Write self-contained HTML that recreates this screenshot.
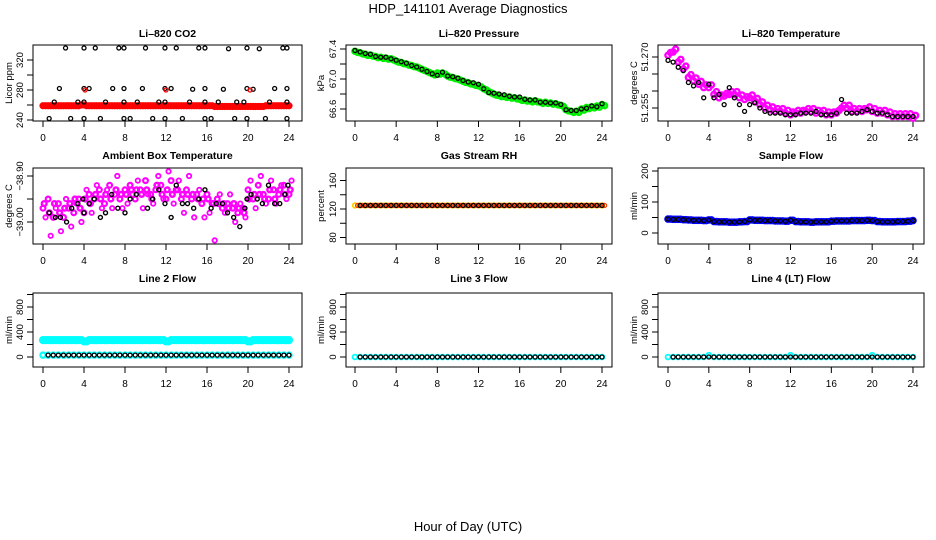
<!DOCTYPE html>
<html><head><meta charset="utf-8"><style>
html,body{margin:0;padding:0;background:#fff;}
svg{display:block;font-family:"Liberation Sans",Arial,sans-serif;}
</style></head><body>
<svg id="chart" width="936" height="540" viewBox="0 0 936 540">
<text x="468" y="13" text-anchor="middle" font-size="13">HDP_141101  Average Diagnostics</text>
<text x="468" y="531" text-anchor="middle" font-size="13">Hour of Day (UTC)</text>
</svg>
<script>
// ---- data ----
const xTicks = [0,4,8,12,16,20,24];
const halfHours = [0,0.5,1,1.5,2,2.5,3,3.5,4,4.5,5,5.5,6,6.5,7,7.5,8,8.5,9,9.5,10,10.5,11,11.5,12,12.5,13,13.5,14,14.5,15,15.5,16,16.5,17,17.5,18,18.5,19,19.5,20,20.5,21,21.5,22,22.5,23,23.5,24];

const co2Red = [259,259,259,259,259,259,259,259,260,259,259,259,259,259,259,259,259,259,259,259,259,259,259,259,259,259,259,259,259,259,259,259,259,259,258,258,258,258,258,258,258,258,258,258,259,259,259,259,259];
const co2BlackHours = [2.2,4,5.1,7.4,7.9,10,11.9,13,15.2,15.8,18.1,19.9,21.1,23.4,23.8, 1.6,4,4.5,6.8,7.9,9.7,11.9,12.5,14.6,15.8,17.6,19.9,20.5,22.6,23.8, 1.1,3.4,4,6.1,7.9,9.2,11.3,11.9,14.3,15.8,17.1,18.9,19.6,22.1,23.8, 0.6,2.7,4,5.6,7.9,8.5,10.7,11.9,13.6,15.8,16.4,18.7,19.9,21.7,23.8];
const co2BlackValues = [336,336,336,336,336,336,336,336,336,336,335,336,335,336,336, 282,282,282,282,282,282,282,282,281,282,281,282,281,282,282, 264,264,264,264,264,264,264,264,264,264,264,264,264,264,264, 242,242,242,242,242,242,242,242,242,242,242,242,242,242,242];
const co2RedHours = [4.1,12,20.2];
const co2RedValues = [280,280,280];

const pressGreen = [67.37,67.35,67.33,67.32,67.30,67.29,67.28,67.27,67.24,67.22,67.20,67.18,67.16,67.13,67.10,67.07,67.08,67.08,67.04,67.02,67.00,66.97,66.95,66.93,66.91,66.87,66.83,66.80,66.78,66.77,66.76,66.75,66.73,66.72,66.71,66.71,66.69,66.69,66.68,66.67,66.65,66.59,66.57,66.57,66.60,66.62,66.63,66.64,66.66];
const pressBlack = [67.38,67.36,67.34,67.33,67.30,67.29,67.29,67.27,67.25,67.23,67.21,67.18,67.16,67.13,67.10,67.07,67.05,67.09,67.04,67.03,67.01,66.98,66.96,66.95,66.93,66.87,66.82,66.81,66.80,66.79,66.77,66.76,66.76,66.73,66.72,66.72,66.69,66.69,66.68,66.68,66.66,66.59,66.58,66.58,66.60,66.61,66.64,66.63,66.67];

const tempMagenta = [51.2705,51.2715,51.2685,51.2665,51.2640,51.2630,51.2620,51.2610,51.2610,51.2590,51.2580,51.2585,51.2590,51.2590,51.2580,51.2575,51.2580,51.2570,51.2560,51.2550,51.2545,51.2540,51.2540,51.2535,51.2530,51.2535,51.2535,51.2540,51.2540,51.2535,51.2535,51.2530,51.2530,51.2535,51.2550,51.2550,51.2540,51.2540,51.2540,51.2545,51.2540,51.2535,51.2535,51.2530,51.2525,51.2525,51.2525,51.2525,51.2520];
const tempBlack = [51.2690,51.2685,51.2670,51.2660,51.2625,51.2615,51.2625,51.2580,51.2620,51.2580,51.2590,51.2560,51.2610,51.2580,51.2560,51.2540,51.2560,51.2565,51.2550,51.2540,51.2535,51.2535,51.2535,51.2530,51.2530,51.2530,51.2535,51.2535,51.2535,51.2540,51.2530,51.2530,51.2530,51.2535,51.2575,51.2535,51.2535,51.2535,51.2540,51.2545,51.2540,51.2535,51.2535,51.2530,51.2525,51.2525,51.2525,51.2525,51.2525];

const ambMagentaA = [-38.97,-38.95,-38.99,-38.96,-38.99,-38.97,-38.98,-38.95,-38.98,-38.94,-38.95,-38.93,-38.96,-38.92,-38.94,-38.95,-38.93,-38.92,-38.95,-38.93,-38.91,-38.94,-38.93,-38.92,-38.95,-38.91,-38.93,-38.95,-38.93,-38.95,-38.94,-38.96,-38.94,-38.96,-38.95,-38.97,-38.96,-38.97,-38.98,-38.97,-38.93,-38.95,-38.92,-38.94,-38.95,-38.93,-38.94,-38.92,-38.94];
const ambMagentaB = [-38.99,-39.03,-38.97,-39.02,-38.95,-39.01,-38.96,-39.00,-38.93,-38.98,-38.92,-38.97,-38.93,-38.97,-38.90,-38.97,-38.96,-38.94,-38.91,-38.97,-38.94,-38.96,-38.90,-38.95,-38.89,-38.96,-38.91,-38.98,-38.90,-38.99,-38.93,-38.99,-38.98,-39.04,-38.94,-38.98,-38.94,-39.00,-38.96,-38.99,-38.91,-38.97,-38.90,-38.96,-38.91,-38.96,-38.92,-38.95,-38.91];
const ambMagentaC = [-38.96,-38.98,-38.96,-38.98,-38.97,-38.96,-38.95,-38.97,-38.95,-38.96,-38.94,-38.95,-38.94,-38.95,-38.93,-38.94,-38.94,-38.93,-38.93,-38.94,-38.93,-38.95,-38.92,-38.94,-38.93,-38.94,-38.93,-38.94,-38.94,-38.94,-38.95,-38.95,-38.95,-38.96,-38.96,-38.96,-38.97,-38.96,-38.97,-38.98,-38.95,-38.94,-38.94,-38.95,-38.93,-38.95,-38.93,-38.94,-38.93];
const ambBlackHours = [0.6,1.2,1.7,2.3,2.8,3.4,3.9,4.0,4.5,5.0,5.6,6.1,6.7,7.3,8.0,8.5,9.1,10.2,10.7,11.3,11.9,12.5,13.0,13.6,14.1,14.7,15.2,15.8,16.4,16.9,17.5,18.0,18.6,19.2,19.7,19.9,20.3,20.9,21.4,22.0,22.6,23.1,23.6,23.9];
const ambBlack = [-38.98,-38.99,-38.99,-39.00,-38.97,-38.96,-38.95,-38.98,-38.96,-38.95,-38.99,-38.98,-38.94,-38.97,-38.98,-38.95,-38.94,-38.97,-38.95,-38.93,-38.96,-38.99,-38.92,-38.96,-38.96,-38.97,-38.95,-38.93,-38.97,-38.96,-38.96,-38.98,-38.99,-39.01,-38.97,-38.95,-38.94,-38.95,-38.96,-38.92,-38.96,-38.96,-38.94,-38.92];

const rhValues = [125,125,125,125,125,125,125,125,125,125,125,125,125,125,125,125,125,125,125,125,125,125,125,125,125,125,125,125,125,125,125,125,125,125,125,125,125,125,125,125,125,125,125,125,125,125,125,125,125];
const sampleBlue = [45,44,44,43,42,41,41,40,42,37,36,36,35,35,36,37,42,41,41,40,40,39,39,38,41,37,36,36,35,36,36,36,38,39,39,39,40,40,40,41,40,37,36,36,36,37,37,38,40];
const line2Top = [270,270,270,270,270,270,270,270,250,270,270,270,270,270,270,270,270,270,270,270,270,270,270,270,250,270,270,270,270,270,270,270,270,270,270,270,270,270,270,270,250,270,270,270,270,270,270,270,270];
const line2Low = [30,30,30,30,30,30,30,30,30,30,30,30,30,30,30,30,30,30,30,30,30,30,30,30,30,30,30,30,30,30,30,30,30,30,30,30,30,30,30,30,30,30,30,30,30,30,30,30,30];
const line3Values = [0,0,0,0,0,0,0,0,0,0,0,0,0,0,0,0,0,0,0,0,0,0,0,0,0,0,0,0,0,0,0,0,0,0,0,0,0,0,0,0,0,0,0,0,0,0,0,0,0];
const line4Values = [0,0,0,0,0,0,0,0,30,0,0,0,0,0,0,0,0,0,0,0,0,0,0,0,30,0,0,0,0,0,0,0,0,0,0,0,0,0,0,0,30,0,0,0,0,0,0,0,0];

// ---- layout ----
const NS = "http://www.w3.org/2000/svg";
const svg = document.getElementById('chart');
const cols = [{bl:33,br:302,x0:43,x24:289,lab:8},{bl:346,br:612,x0:355,x24:602,lab:320},{bl:658,br:924,x0:668,x24:913,lab:633}];
const rows = [{bt:45,bb:121,title:37},{bt:168,bb:244,title:159},{bt:293,bb:367,title:282}];

function el(tag, attrs, parent){
  const e = document.createElementNS(NS, tag);
  for (const k in attrs) e.setAttribute(k, attrs[k]);
  (parent||svg).appendChild(e);
  return e;
}
function linMap(v1,p1,v2,p2){ return v => p1 + (v-v1)*(p2-p1)/(v2-v1); }

function panel(ci, ri, title, ylab, y1, p1, y2, p2, ticks, labels, labelText, name){
  const c = cols[ci], r = rows[ri];
  const g = el('g', {});
  
  
  const xm = linMap(0, c.x0, 24, c.x24);
  const ym = linMap(y1, p1, y2, p2);
  const t = el('text', {x:(c.bl+c.br)/2, y:r.title, 'text-anchor':'middle', 'font-size':10.5, 'font-weight':'bold'}, g);
  t.textContent = title;
  
  
  const yl = el('text', {x:c.lab+4, y:(r.bt+r.bb)/2, 'text-anchor':'middle', 'font-size':9.5, transform:`rotate(-90 ${c.lab+4} ${(r.bt+r.bb)/2})`}, g);
  yl.textContent = ylab;
  
  
  const xa = el('g', {}, g);
  
  
  el('line', {x1:xm(xTicks[0]), x2:xm(xTicks[xTicks.length-1]), y1:r.bb, y2:r.bb, stroke:'#000'}, xa);
  xTicks.forEach(v => {
    el('line', {x1:xm(v), x2:xm(v), y1:r.bb, y2:r.bb+6, stroke:'#000'}, xa);
    const tl = el('text', {x:xm(v), y:r.bb+20, 'text-anchor':'middle', 'font-size':10}, xa);
    tl.textContent = v;
  });
  const ya = el('g', {}, g);
  
  
  el('line', {x1:c.bl, x2:c.bl, y1:ym(ticks[0]), y2:ym(ticks[ticks.length-1]), stroke:'#000'}, ya);
  ticks.forEach(v => {
    el('line', {x1:c.bl-6, x2:c.bl, y1:ym(v), y2:ym(v), stroke:'#000'}, ya);
  });
  labels.forEach((v,i) => {
    const tx = c.bl-10, ty = ym(v);
    const tl = el('text', {x:tx, y:ty, 'text-anchor':'middle', 'font-size':9.5, transform:`rotate(-90 ${tx} ${ty})`}, ya);
    tl.textContent = labelText[i];
  });
  const b = el('rect', {x:c.bl, y:r.bt, width:c.br-c.bl, height:r.bb-r.bt, fill:'none', stroke:'#000'}, g);
  
  
  const clip = 'clip-' + name;
  const cp = el('clipPath', {id:clip}, g);
  el('rect', {x:c.bl, y:r.bt, width:c.br-c.bl+3, height:r.bb-r.bt+2}, cp);
  const pg = el('g', {'clip-path':`url(#${clip})`}, g);
  return {xm, ym, pg};
}
function points(p, xs, ys, color, r, sw, name){
  const sg = el('g', {}, p.pg);
  
  
  for (let i = 0; i < ys.length; i++) {
    const c = el('circle', {cx:p.xm(xs[i]), cy:p.ym(ys[i]), r:r, fill:'none', stroke:color, 'stroke-width':sw}, sg);
    
    
  }
}
const shifted = (arr, d) => arr.map(h => h + d);

// CO2
let p = panel(0,0,'Li\u2013820 CO2','Licor ppm', 240,120, 320,60, [240,260,280,300,320],[240,280,320],['240','280','320'],'li820-co2');
points(p, halfHours, co2Red, '#ff0000', 2.3, 2.6, 'co2-red-series');
points(p, shifted(halfHours,0.25).slice(0,48), co2Red.slice(1), '#ff0000', 2.3, 2.6, 'co2-red-series-b');
points(p, co2BlackHours, co2BlackValues, '#000', 2, 1.3, 'co2-black-series');
points(p, co2RedHours, co2RedValues, '#ff0000', 2, 1.3, 'co2-red-outliers');

// Pressure
p = panel(1,0,'Li\u2013820 Pressure','kPa', 67.4,49, 66.6,109, [66.6,66.8,67.0,67.2,67.4],[66.6,67.0,67.4],['66.6','67.0','67.4'],'li820-pressure');
points(p, halfHours, pressGreen, '#00ee00', 2.6, 2.4, 'pressure-green-series');
points(p, shifted(halfHours,0.25), pressGreen.map(v=>v-0.015), '#00ee00', 2.6, 2.4, 'pressure-green-series-b');
points(p, halfHours, pressBlack, '#000', 2, 1.3, 'pressure-black-series');

// Temperature
p = panel(2,0,'Li\u2013820 Temperature','degrees C', 51.270,57, 51.255,108, [51.255,51.260,51.265,51.270],[51.270,51.255],['51.270','51.255'],'li820-temperature');
points(p, halfHours, tempMagenta, '#ff00ff', 2.6, 2.4, 'temperature-magenta-series');
points(p, shifted(halfHours,0.25), tempMagenta.map(v=>v+0.0008), '#ff00ff', 2.6, 2.4, 'temperature-magenta-series-b');
points(p, halfHours, tempBlack, '#000', 2, 1.3, 'temperature-black-series');

// Ambient
p = panel(0,1,'Ambient Box Temperature','degrees C', -38.90,176, -39.00,222, [-39.00,-38.95,-38.90],[-39.00,-38.90],['\u221239.00','\u221238.90'],'ambient-box-temperature');
points(p, halfHours, ambMagentaA, '#ff00ff', 2.4, 2.2, 'ambient-magenta-series');
points(p, shifted(halfHours,0.25), ambMagentaB, '#ff00ff', 2.2, 1.8, 'ambient-magenta-series-b');
points(p, shifted(halfHours,0.12), ambMagentaC, '#ff00ff', 2.4, 2.4, 'ambient-magenta-series-c');
points(p, ambBlackHours, ambBlack, '#000', 2, 1.4, 'ambient-black-series');

// RH
p = panel(1,1,'Gas Stream RH','percent', 120,209, 160,180.5, [80,100,120,140,160],[80,120,160],['80','120','160'],'gas-stream-rh');
points(p, halfHours, rhValues, '#ffcc00', 2.3, 1.8, 'rh-yellow-series');
points(p, shifted(halfHours,0.25), rhValues, '#ff3300', 2, 1.3, 'rh-red-series');
points(p, halfHours.slice(1), rhValues.slice(1), '#000', 2, 1.3, 'rh-black-series');

// Sample flow
p = panel(2,1,'Sample Flow','ml/min', 0,233, 200,171, [0,50,100,150,200],[0,100,200],['0','100','200'],'sample-flow');
points(p, halfHours, sampleBlue, '#0000ff', 2.6, 2.4, 'sample-blue-series');
points(p, shifted(halfHours,0.25).slice(0,48), sampleBlue.slice(0,48), '#0000ff', 2.6, 2.4, 'sample-blue-series-b');
points(p, halfHours, sampleBlue, '#000', 2, 1.3, 'sample-black-series');

// Line 2
p = panel(0,2,'Line 2 Flow','ml/min', 0,357, 800,307, [0,200,400,600,800,1000],[0,400,800],['0','400','800'],'line2-flow');
points(p, halfHours, line2Top, '#00ffff', 2.8, 2.6, 'line2-cyan-high');
points(p, shifted(halfHours,0.25).slice(0,48), line2Top.slice(0,48), '#00ffff', 2.8, 2.6, 'line2-cyan-high-b');
points(p, halfHours, line2Low, '#00ffff', 2.6, 2.2, 'line2-cyan-low');
points(p, halfHours.slice(1), line2Low.slice(1), '#000', 2, 1.3, 'line2-black-series');

// Line 3
p = panel(1,2,'Line 3 Flow','ml/min', 0,357, 800,307, [0,200,400,600,800,1000],[0,400,800],['0','400','800'],'line3-flow');
points(p, halfHours, line3Values, '#00ffff', 2.4, 1.8, 'line3-cyan-series');
points(p, halfHours.slice(1), line3Values.slice(1), '#000', 2, 1.3, 'line3-black-series');

// Line 4
p = panel(2,2,'Line 4 (LT) Flow','ml/min', 0,357, 800,307, [0,200,400,600,800,1000],[0,400,800],['0','400','800'],'line4-flow');
points(p, halfHours, line4Values, '#00ffff', 2.4, 1.8, 'line4-cyan-series');
points(p, halfHours.slice(1), line3Values.slice(1), '#000', 2, 1.3, 'line4-black-series');
</script>
</body></html>
